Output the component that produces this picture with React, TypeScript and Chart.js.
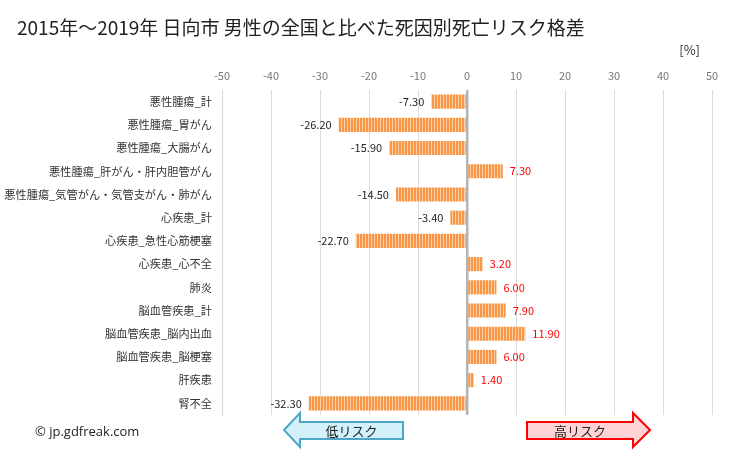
import React, { useEffect, useRef } from "react";
import { Chart, registerables } from "chart.js";

Chart.register(...registerables);

const categories = [
  "悪性腫瘍_計",
  "悪性腫瘍_胃がん",
  "悪性腫瘍_大腸がん",
  "悪性腫瘍_肝がん・肝内胆管がん",
  "悪性腫瘍_気管がん・気管支がん・肺がん",
  "心疾患_計",
  "心疾患_急性心筋梗塞",
  "心疾患_心不全",
  "肺炎",
  "脳血管疾患_計",
  "脳血管疾患_脳内出血",
  "脳血管疾患_脳梗塞",
  "肝疾患",
  "腎不全",
];
const values = [-7.3, -26.2, -15.9, 7.3, -14.5, -3.4, -22.7, 3.2, 6.0, 7.9, 11.9, 6.0, 1.4, -32.3];
const xTicks = [-50, -40, -30, -20, -10, 0, 10, 20, 30, 40, 50];
const title = "2015年～2019年 日向市 男性の全国と比べた死因別死亡リスク格差";
const unitLabel = "[%]";
const lowLabel = "低リスク";
const highLabel = "高リスク";
const credit = "© jp.gdfreak.com";

const JP = "'Noto Sans CJK JP', 'Noto Sans', sans-serif";

function makePattern(): CanvasPattern | string {
  const c = document.createElement("canvas");
  c.width = 3;
  c.height = 4;
  const g = c.getContext("2d");
  if (!g) return "#f79646";
  g.fillStyle = "#f79646";
  g.fillRect(0, 0, 2, 4);
  g.fillStyle = "#fcd0a4";
  g.fillRect(2, 0, 1, 4);
  const p = g.createPattern(c, "repeat");
  return p || "#f79646";
}

function drawArrow(
  ctx: CanvasRenderingContext2D,
  dir: "left" | "right",
  bodyX0: number,
  bodyX1: number,
  tipX: number,
  bodyY0: number,
  bodyY1: number,
  headY0: number,
  headY1: number,
  fill: string,
  stroke: string,
  text: string
) {
  ctx.save();
  ctx.beginPath();
  const midY = (headY0 + headY1) / 2;
  if (dir === "left") {
    ctx.moveTo(tipX, midY);
    ctx.lineTo(bodyX0, headY0);
    ctx.lineTo(bodyX0, bodyY0);
    ctx.lineTo(bodyX1, bodyY0);
    ctx.lineTo(bodyX1, bodyY1);
    ctx.lineTo(bodyX0, bodyY1);
    ctx.lineTo(bodyX0, headY1);
  } else {
    ctx.moveTo(tipX, midY);
    ctx.lineTo(bodyX1, headY0);
    ctx.lineTo(bodyX1, bodyY0);
    ctx.lineTo(bodyX0, bodyY0);
    ctx.lineTo(bodyX0, bodyY1);
    ctx.lineTo(bodyX1, bodyY1);
    ctx.lineTo(bodyX1, headY1);
  }
  ctx.closePath();
  ctx.fillStyle = fill;
  ctx.fill();
  ctx.lineWidth = 2;
  ctx.strokeStyle = stroke;
  ctx.stroke();
  ctx.fillStyle = "#222";
  ctx.font = `13px ${JP}`;
  ctx.textAlign = "center";
  ctx.textBaseline = "middle";
  const cx = (bodyX0 + bodyX1) / 2;
  ctx.fillText(text, cx, (bodyY0 + bodyY1) / 2 + 1);
  ctx.restore();
}

const overlayPlugin = {
  id: "overlay",
  afterDatasetsDraw(chart: any) {
    const ctx: CanvasRenderingContext2D = chart.ctx;
    const meta = chart.getDatasetMeta(0);
    ctx.save();
    ctx.font = `11px ${JP}`;
    ctx.textBaseline = "middle";
    meta.data.forEach((bar: any, i: number) => {
      const v = values[i];
      const txt = v.toFixed(2);
      if (v < 0) {
        ctx.fillStyle = "#222";
        ctx.textAlign = "right";
        ctx.fillText(txt, bar.x - 7, bar.y);
      } else {
        ctx.fillStyle = "#ff0000";
        ctx.textAlign = "left";
        ctx.fillText(txt, bar.x + 7, bar.y);
      }
    });
    ctx.restore();
  },
  afterDraw(chart: any) {
    const ctx: CanvasRenderingContext2D = chart.ctx;
    ctx.save();
    ctx.fillStyle = "#222";
    ctx.font = `19px ${JP}`;
    ctx.textAlign = "left";
    ctx.textBaseline = "middle";
    ctx.fillText(title, 17, 28);
    ctx.font = `13px ${JP}`;
    ctx.fillStyle = "#333";
    ctx.textAlign = "right";
    ctx.fillText(unitLabel, 700, 50);
    ctx.font = `13px 'Open Sans', 'Noto Sans', sans-serif`;
    ctx.textAlign = "left";
    ctx.fillStyle = "#222";
    ctx.fillText(credit, 35, 432);
    ctx.restore();
    drawArrow(ctx, "left", 300, 403, 284, 422, 439, 413, 447, "#d3f1fb", "#4ea6c6", lowLabel);
    drawArrow(ctx, "right", 527, 633, 650, 422, 439, 413, 447, "#ffd3d3", "#ff0000", highLabel);
  },
};

export default function App() {
  const ref = useRef<HTMLCanvasElement | null>(null);
  useEffect(() => {
    if (!ref.current) return;
    const chart = new Chart(ref.current, {
      type: "bar",
      data: {
        labels: categories,
        datasets: [
          {
            data: values,
            backgroundColor: makePattern() as any,
            borderWidth: 0,
            categoryPercentage: 1,
            barPercentage: 0.61,
          },
        ],
      },
      options: {
        indexAxis: "y",
        animation: false,
        responsive: false,
        maintainAspectRatio: false,
        layout: { padding: { top: 0, right: 17, bottom: 35, left: 0 } },
        plugins: { legend: { display: false }, tooltip: { enabled: false }, title: { display: false } },
        scales: {
          x: {
            position: "top",
            min: -50,
            max: 50,
            afterBuildTicks: (axis: any) => {
              axis.ticks = xTicks.map((v) => ({ value: v }));
            },
            afterFit: (axis: any) => {
              axis.height = 90;
            },
            ticks: {
              color: "#777",
              font: { size: 11, family: JP },
              padding: 8,
            },
            grid: {
              drawTicks: false,
              color: (c: any) => (c.tick && c.tick.value === 0 ? "#b4b4b4" : "#dcdcdc"),
              lineWidth: (c: any) => (c.tick && c.tick.value === 0 ? 2.5 : 1),
            },
            border: { display: false },
          },
          y: {
            afterFit: (axis: any) => {
              axis.width = 222;
            },
            ticks: {
              color: "#333",
              font: { size: 11.2, family: JP },
              padding: 10,
            },
            grid: { display: false, drawTicks: false },
            border: { display: true, color: "#d6d6d6", width: 1 },
          },
        },
      },
      plugins: [overlayPlugin],
    });
    return () => chart.destroy();
  }, []);
  return (
    <div style={{ position: "absolute", left: 0, top: 0, width: 729, height: 450, background: "#fff" }}>
      <canvas ref={ref} width={729} height={450} style={{ width: 729, height: 450 }} />
    </div>
  );
}
